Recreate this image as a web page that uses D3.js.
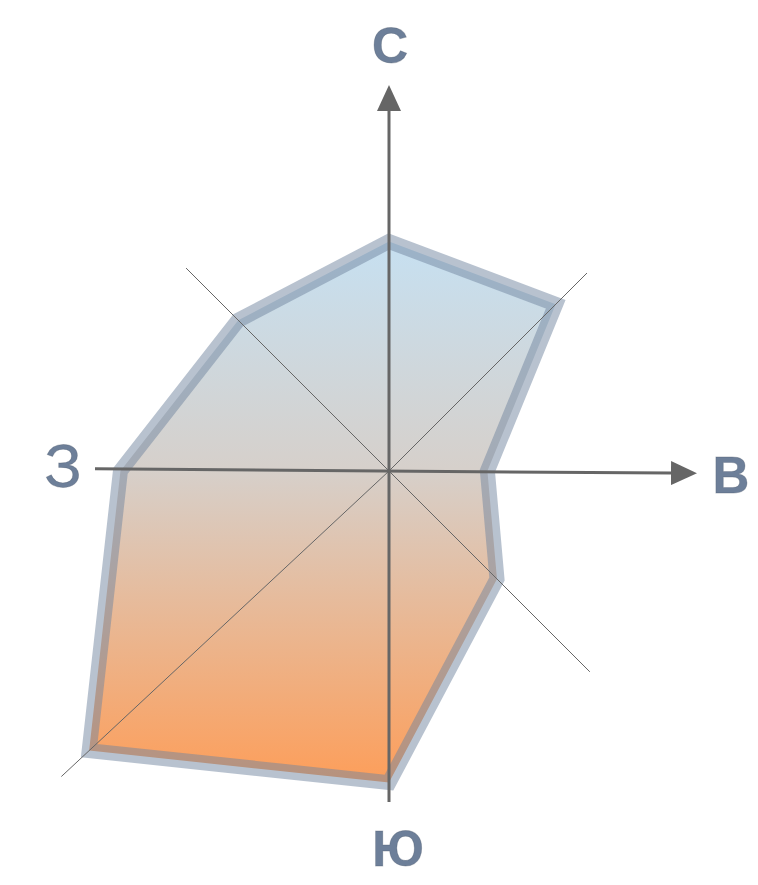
<!DOCTYPE html>
<html>
<head>
<meta charset="utf-8">
<script src="https://cdn.jsdelivr.net/npm/d3@7"></script>
<style>
  html, body { margin: 0; padding: 0; background: #fff; }
  svg { display: block; }
</style>
</head>
<body>
<div id="chart"></div>
<script>
// wind rose data (% of observations by direction)
var directions = ["С", "СВ", "В", "ЮВ", "Ю", "ЮЗ", "З", "СЗ"];
var angles = [0, 45, 90, 135, 180, 227, 270, 315];   // degrees, clockwise from north
var frequency = [11.2, 11.5, 4.8, 7.45, 15.2, 20, 13.1, 10.4];

// main axes labels
var axisLabels = ["С", "В", "Ю", "З"];

var width = 758, height = 885,
    cx = 389, cy = 471;

var r = d3.scaleLinear()
    .domain([0, 20])
    .range([0, 410]);

var svg = d3.select("#chart")
  .append("svg")
    .attr("width", width)
    .attr("height", height);

var defs = svg.append("defs");

var grad = defs.append("linearGradient")
    .attr("id", "fillGrad")
    .attr("x1", 0).attr("y1", 0)
    .attr("x2", 0).attr("y2", 1);
grad.append("stop").attr("offset", "0%").attr("stop-color", "#c6e0f1");
grad.append("stop").attr("offset", "42%").attr("stop-color", "#d6d0cb");
grad.append("stop").attr("offset", "100%").attr("stop-color", "#fd9e5a");

defs.append("marker")
    .attr("id", "arrow")
    .attr("viewBox", "0 0 26 24")
    .attr("refX", 0)
    .attr("refY", 12)
    .attr("markerWidth", 26)
    .attr("markerHeight", 24)
    .attr("markerUnits", "userSpaceOnUse")
    .attr("orient", "auto")
  .append("path")
    .attr("d", "M0,0L26,12L0,24Z")
    .attr("fill", "#666");

var g = svg.append("g")
    .attr("transform", "translate(" + cx + "," + cy + ")");

var rad = function(a) { return a * Math.PI / 180; };

var rose = d3.lineRadial()
    .angle(function(d, i) { return rad(angles[i]); })
    .radius(function(d) { return r(d); })
    .curve(d3.curveLinearClosed);

// polygon
g.append("path")
    .datum(frequency)
    .attr("d", rose)
    .attr("fill", "url(#fillGrad)")
    .attr("stroke", "#71859f")
    .attr("stroke-opacity", 0.5)
    .attr("stroke-width", 15)
    .attr("stroke-linejoin", "miter");

// thin diagonal guides
var diag = [
  {a: 45, len: 280},
  {a: 135, len: 284},
  {a: 227, len: 448},
  {a: 315, len: 287}
];
g.selectAll(".diag")
  .data(diag)
  .enter().append("line")
    .attr("class", "diag")
    .attr("x1", 0).attr("y1", 0)
    .attr("x2", function(d) { return Math.sin(rad(d.a)) * d.len; })
    .attr("y2", function(d) { return -Math.cos(rad(d.a)) * d.len; })
    .attr("stroke", "#666")
    .attr("stroke-width", 1);

// main axes
var tilt = 0.43;
function pt(a, len) { return [Math.sin(rad(a)) * len, -Math.cos(rad(a)) * len]; }

var vTop = pt(0, 386 - 26), vBot = pt(180, 331);
g.append("line")
    .attr("x1", vBot[0]).attr("y1", vBot[1])
    .attr("x2", vTop[0]).attr("y2", vTop[1])
    .attr("stroke", "#666")
    .attr("stroke-width", 3)
    .attr("marker-end", "url(#arrow)");

var hRight = pt(90 + tilt, 308 - 26), hLeft = pt(270 + tilt, 294);
g.append("line")
    .attr("x1", hLeft[0]).attr("y1", hLeft[1])
    .attr("x2", hRight[0]).attr("y2", hRight[1])
    .attr("stroke", "#666")
    .attr("stroke-width", 3)
    .attr("marker-end", "url(#arrow)");

// labels
var labelPos = [
  {t: axisLabels[0], x: 390, y: 63, size: 50, weight: "bold"},
  {t: axisLabels[1], x: 731, y: 493, size: 51, weight: "bold"},
  {t: axisLabels[2], x: 398, y: 866, size: 50, weight: "bold"},
  {t: axisLabels[3], x: 63, y: 487, size: 62, weight: "normal"}
];
svg.selectAll(".lbl")
  .data(labelPos)
  .enter().append("text")
    .attr("class", "lbl")
    .attr("x", function(d) { return d.x; })
    .attr("y", function(d) { return d.y; })
    .attr("text-anchor", "middle")
    .attr("font-family", "Liberation Sans, Arial, sans-serif")
    .attr("font-size", function(d) { return d.size; })
    .attr("font-weight", function(d) { return d.weight; })
    .attr("fill", "#6d7f99")
    .attr("stroke", "#4a5566")
    .attr("stroke-opacity", 0.35)
    .attr("stroke-width", 0.8)
    .text(function(d) { return d.t; });
</script>
</body>
</html>
